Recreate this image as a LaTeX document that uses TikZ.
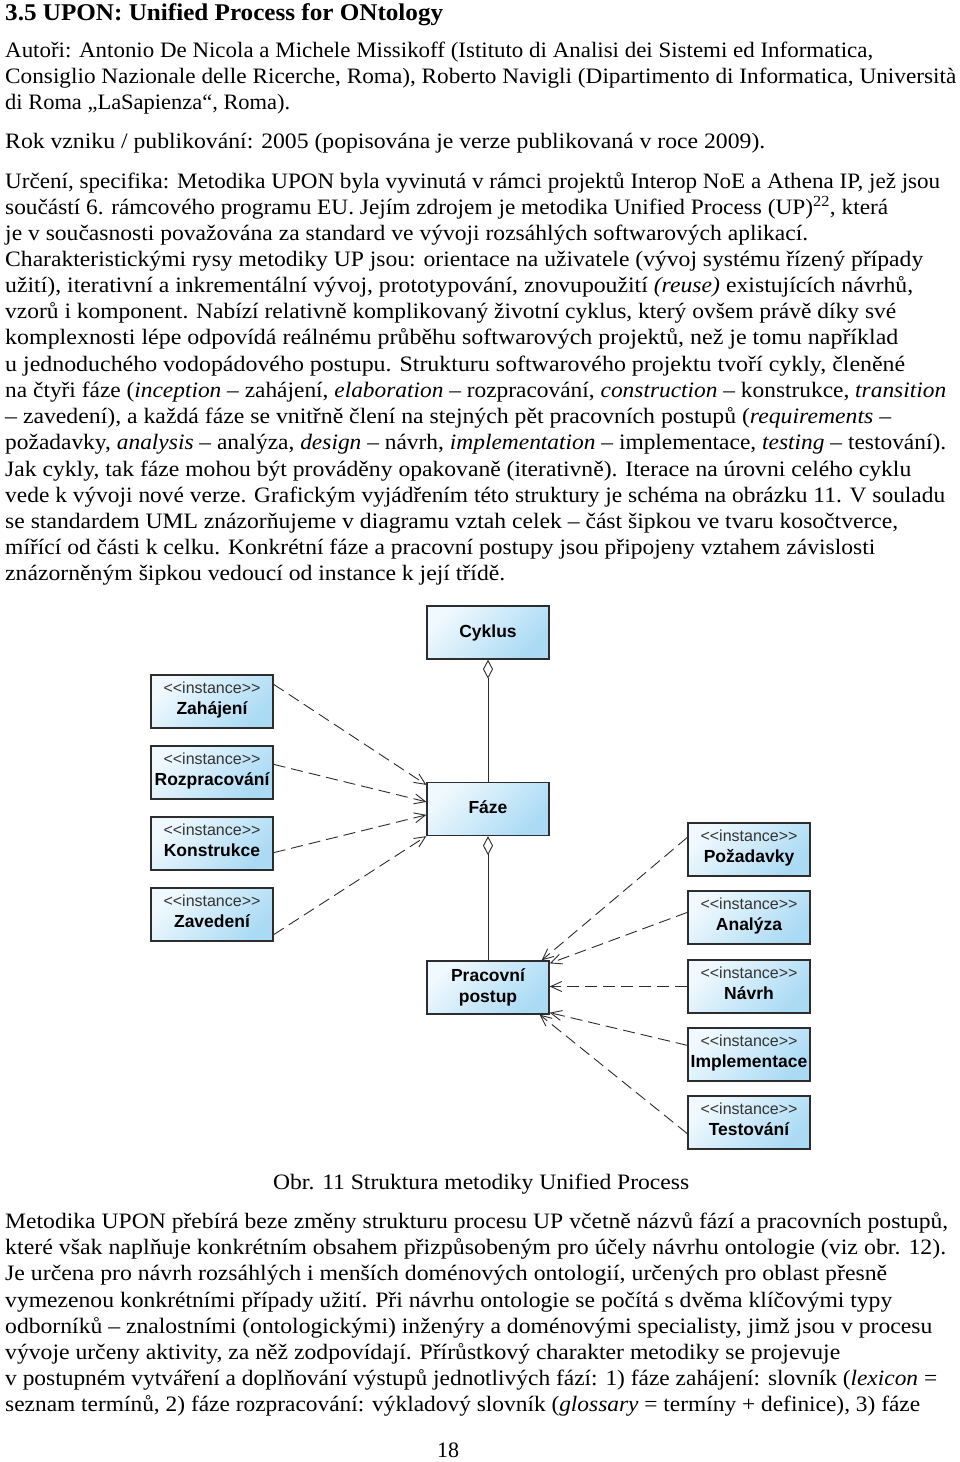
\documentclass[tikz,border=0pt]{standalone}
\usepackage{fontspec}
\setmainfont{Liberation Serif}
\newfontfamily\arialf{Liberation Sans}
\usetikzlibrary{arrows.meta,calc}
\definecolor{boxA}{RGB}{240,249,254}
\definecolor{boxB}{RGB}{170,218,244}
\definecolor{edgec}{RGB}{45,45,45}
\newcommand\bodyline[4]{\node[txt] (#1) at (5,#2) {\resizebox{#3pt}{\height}{#4}};}
\newcommand\inst{<\kern0pt<instance>\kern0pt>}
\begin{document}
\begin{tikzpicture}[x=1pt,y=-1pt,
  txt/.style={anchor=base west,inner sep=0pt,font=\fontsize{22}{26}\selectfont},
  hd/.style={anchor=base west,inner sep=0pt,font=\bfseries\fontsize{24}{28}\selectfont},
  cls/.style={draw=edgec,line width=1.3pt,top color=boxA,bottom color=boxB,shading angle=45,
    minimum width=122pt,minimum height=53pt,inner sep=0pt},
  nm/.style={anchor=base,inner sep=0pt,font=\arialf\bfseries\fontsize{17.5}{20}\selectfont},
  st/.style={anchor=base,inner sep=0pt,text=black!80,font=\arialf\fontsize{16}{18}\selectfont},
  dep/.style={draw=edgec,line width=0.9pt,dash pattern=on 12pt off 6pt,
    -{Straight Barb[length=11pt,width=10pt]}},
  agg/.style={draw=edgec,line width=0.9pt,-{Diamond[fill=white,length=19pt,width=10pt]}}]
\useasboundingbox (0,0) rectangle (960,1462);
\fill[white] (0,0) rectangle (960,1462);

\node[hd] (h) at (5,20) {\resizebox{438pt}{\height}{3.5 UPON: Unified Process for ONtology}};
\bodyline{a1}{57}{868}{Autoři: Antonio De Nicola a Michele Missikoff (Istituto di Analisi dei Sistemi ed Informatica,}
\bodyline{a2}{83}{951}{Consiglio Nazionale delle Ricerche, Roma), Roberto Navigli (Dipartimento di Informatica, Università}
\bodyline{a3}{109}{285}{di Roma „LaSapienza“, Roma).}
\bodyline{a4}{148}{760}{Rok vzniku / publikování: 2005 (popisována je verze publikovaná v roce 2009).}

\bodyline{b1}{188}{935}{Určení, specifika: Metodika UPON byla vyvinutá v rámci projektů Interop NoE a Athena IP, jež jsou}
\bodyline{b2}{214}{883}{součástí 6. rámcového programu EU. Jejím zdrojem je metodika Unified Process (UP)\textsuperscript{22}, která}
\bodyline{b3}{240}{803}{je v současnosti považována za standard ve vývoji rozsáhlých softwarových aplikací.}
\bodyline{b4}{266}{918}{Charakteristickými rysy metodiky UP jsou: orientace na uživatele (vývoj systému řízený případy}
\bodyline{b5}{292}{908}{užití), iterativní a inkrementální vývoj, prototypování, znovupoužití \textit{(reuse)} existujících návrhů,}
\bodyline{b6}{318}{891}{vzorů i komponent. Nabízí relativně komplikovaný životní cyklus, který ovšem právě díky své}
\bodyline{b7}{344}{893}{komplexnosti lépe odpovídá reálnému průběhu softwarových projektů, než je tomu například}
\bodyline{b8}{371}{900}{u jednoduchého vodopádového postupu. Strukturu softwarového projektu tvoří cykly, členěné}
\bodyline{b9}{397}{941}{na čtyři fáze (\textit{inception} – zahájení, \textit{elaboration} – rozpracování, \textit{construction} – konstrukce, \textit{transition}}
\bodyline{b10}{423}{886}{– zavedení), a každá fáze se vnitřně člení na stejných pět pracovních postupů (\textit{requirements} –}
\bodyline{b11}{449}{941}{požadavky, \textit{analysis} – analýza, \textit{design} – návrh, \textit{implementation} – implementace, \textit{testing} – testování).}
\bodyline{b12}{476}{906}{Jak cykly, tak fáze mohou být prováděny opakovaně (iterativně). Iterace na úrovni celého cyklu}
\bodyline{b13}{502}{940}{vede k vývoji nové verze. Grafickým vyjádřením této struktury je schéma na obrázku 11. V souladu}
\bodyline{b14}{528}{893}{se standardem UML znázorňujeme v diagramu vztah celek – část šipkou ve tvaru kosočtverce,}
\bodyline{b15}{554}{870}{mířící od části k celku. Konkrétní fáze a pracovní postupy jsou připojeny vztahem závislosti}
\bodyline{b16}{580}{500}{znázorněným šipkou vedoucí od instance k její třídě.}

\node[txt] (cap) at (273,1189) {\resizebox{416pt}{\height}{Obr. 11 Struktura metodiky Unified Process}};
\bodyline{c1}{1228}{943}{Metodika UPON přebírá beze změny strukturu procesu UP včetně názvů fází a pracovních postupů,}
\bodyline{c2}{1254}{941}{které však naplňuje konkrétním obsahem přizpůsobeným pro účely návrhu ontologie (viz obr. 12).}
\bodyline{c3}{1280}{882}{Je určena pro návrh rozsáhlých i menších doménových ontologií, určených pro oblast přesně}
\bodyline{c4}{1307}{887}{vymezenou konkrétními případy užití. Při návrhu ontologie se počítá s dvěma klíčovými typy}
\bodyline{c5}{1333}{927}{odborníků – znalostními (ontologickými) inženýry a doménovými specialisty, jimž jsou v procesu}
\bodyline{c6}{1359}{835}{vývoje určeny aktivity, za něž zodpovídají. Přírůstkový charakter metodiky se projevuje}
\bodyline{c7}{1385}{932}{v postupném vytváření a doplňování výstupů jednotlivých fází: 1) fáze zahájení: slovník (\textit{lexicon} =}
\bodyline{c8}{1411}{915}{seznam termínů, 2) fáze rozpracování: výkladový slovník (\textit{glossary} = termíny + definice), 3) fáze}
\node[txt] (pg) at (437,1457) {18};

% class boxes
\node[cls] (cyk) at (488,632.5) {};
\node[cls] (faze) at (488,809) {};
\node[cls] (pra) at (488,987.5) {};
\node[nm] (cykT) at ([yshift=-32pt]cyk.north) {Cyklus};
\node[nm] (fazeT) at ([yshift=-32pt]faze.north) {Fáze};
\node[nm] (praT1) at ([yshift=-21pt]pra.north) {Pracovní};
\node[nm] (praT2) at ([yshift=-42pt]pra.north) {postup};

% instance boxes
\foreach \id/\x/\y/\txt in {zah/212/701.5/Zahájení, roz/212/772.5/Rozpracování, kon/212/843.5/Konstrukce, zav/212/914.5/Zavedení,
  poz/749/849.5/Požadavky, ana/749/917.5/Analýza, nav/749/986.5/Návrh, imp/749/1054.5/Implementace, tes/749/1122.5/Testování}{
  \node[cls] (\id) at (\x,\y) {};
  \node[st] (\id S) at ([yshift=-19pt]\id.north) {\inst};
  \node[nm] (\id T) at ([yshift=-40pt]\id.north) {\txt};
}

% aggregation
\draw[agg] (faze.north) -- (cyk.south);
\draw[agg] (pra.north) -- (faze.south);

% dependencies
\draw[dep] ([yshift=-10pt]zah.north east) -- ([yshift=-3pt]faze.north west);
\draw[dep] ([yshift=-19pt]roz.north east) -- ([yshift=-20pt]faze.north west);
\draw[dep] ([yshift=18pt]kon.south east) -- ([yshift=-33pt]faze.north west);
\draw[dep] ([yshift=7pt]zav.south east) -- (faze.south west);
\draw[dep] ([yshift=-15pt]poz.north west) -- ([xshift=-8pt]pra.north east);
\draw[dep] ([yshift=-22pt]ana.north west) -- ([yshift=-3pt]pra.north east);
\draw[dep] (nav.west) -- (nav.west -| pra.east);
\draw[dep] ([yshift=-18pt]imp.north west) -- ([yshift=2pt]pra.south east);
\draw[dep] ([yshift=16pt]tes.south west) -- ([xshift=-10pt]pra.south east);
\end{tikzpicture}
\end{document}
